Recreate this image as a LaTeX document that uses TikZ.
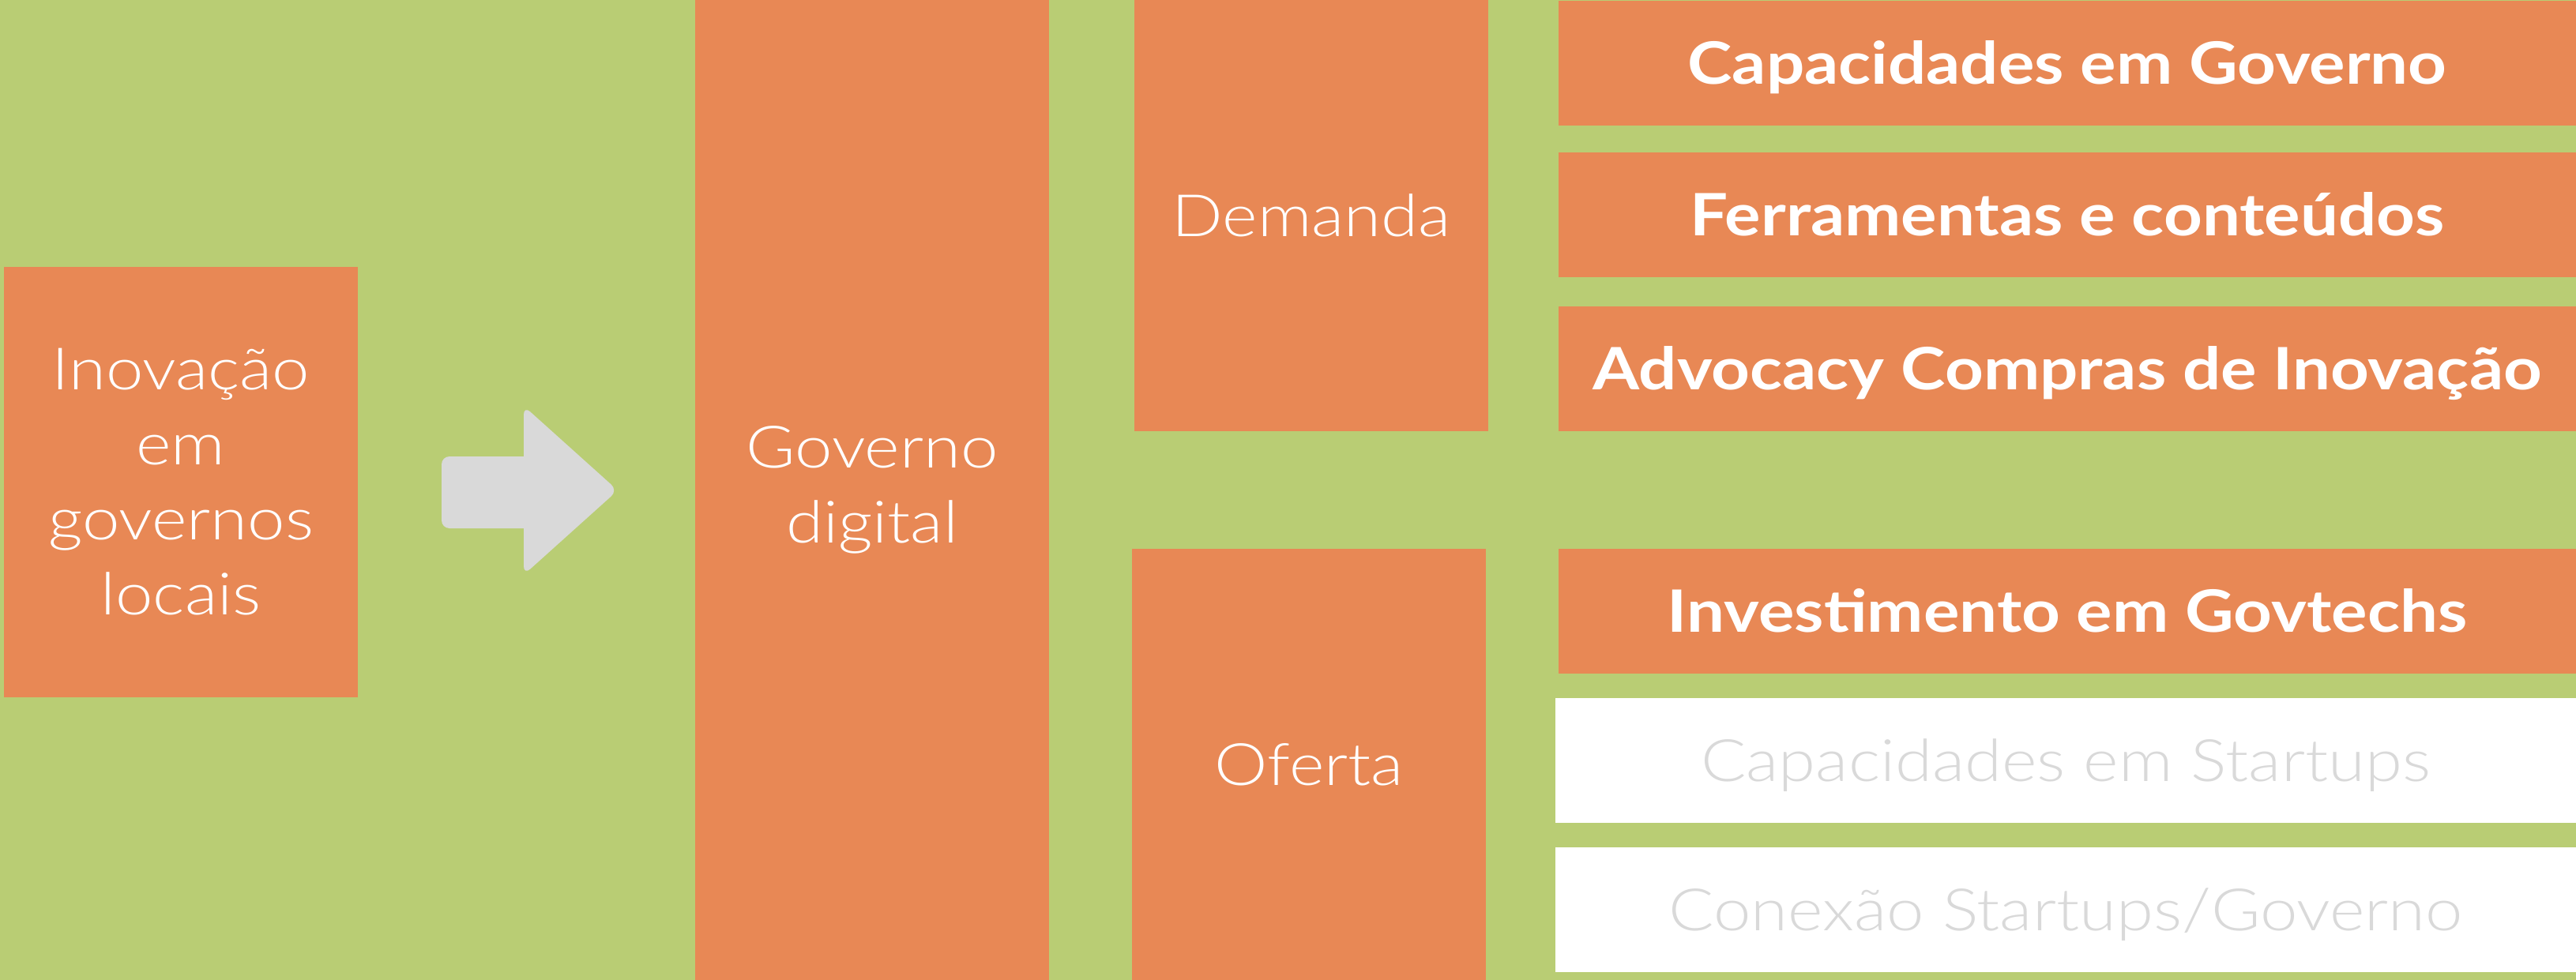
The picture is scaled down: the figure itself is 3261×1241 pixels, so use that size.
\documentclass[tikz,border=0pt]{standalone}
\usepackage{fontspec}
\setmainfont{Lato}[FakeStretch=1.15]
\newfontfamily\lightfont{Lato Light}[FakeStretch=1.15]
\definecolor{bggreen}{RGB}{185,205,116}
\definecolor{boxorange}{RGB}{232,136,85}
\definecolor{arrowgray}{RGB}{217,217,217}
\definecolor{paletext}{RGB}{217,217,217}
\tikzset{
  orangebox/.style={rectangle, fill=boxorange, inner sep=0pt, text=white, align=center,
    font=\fontsize{74}{95}\selectfont\lightfont},
  itembox/.style={orangebox, minimum width=1288pt, minimum height=158pt,
    text height=53pt, text depth=0pt, font=\fontsize{74}{95}\selectfont\rmfamily\bfseries},
  whitebox/.style={itembox, fill=white, text=paletext, minimum width=1292pt,
    font=\fontsize{74}{95}\selectfont\lightfont},
}
\begin{document}
\begin{tikzpicture}[x=1pt,y=-1pt]
\fill[bggreen] (0,0) rectangle (3261,1241);
\useasboundingbox (0,0) rectangle (3261,1241);

\node[orangebox, minimum width=448pt, minimum height=545pt] (inov) at (229,610.5)
  {Inovação\\em\\governos\\locais};
\node[orangebox, minimum width=448pt, minimum height=1241pt] (gov) at (1104,620.5)
  {Governo\\digital};
\node[orangebox, minimum width=448pt, minimum height=546pt, text height=53pt, text depth=0pt] (dem) at (1660,273) {Demanda};
\node[orangebox, minimum width=448pt, minimum height=546pt, text height=53pt, text depth=0pt] (ofe) at (1657,968) {Oferta};

\node[itembox] (c1) at (2617,80) {Capacidades em Governo};
\node[itembox] (c2) at (2617,272) {Ferramentas e conteúdos};
\node[itembox] (c3) at (2617,467) {Advocacy Compras de Inovação};
\node[itembox] (c4) at (2617,774) {Investimento em Govtechs};
\node[whitebox] (c5) at (2615,963) {Capacidades em Startups};
\node[whitebox] (c6) at (2615,1152) {Conexão Startups/Governo};

% block arrow between the first two columns
\fill[arrowgray, rounded corners=10pt] (559,578) rectangle (705,669);
\fill[arrowgray, rounded corners=11pt]
  (663,514) -- (782,621) -- (663,728) -- cycle;
\end{tikzpicture}
\end{document}
